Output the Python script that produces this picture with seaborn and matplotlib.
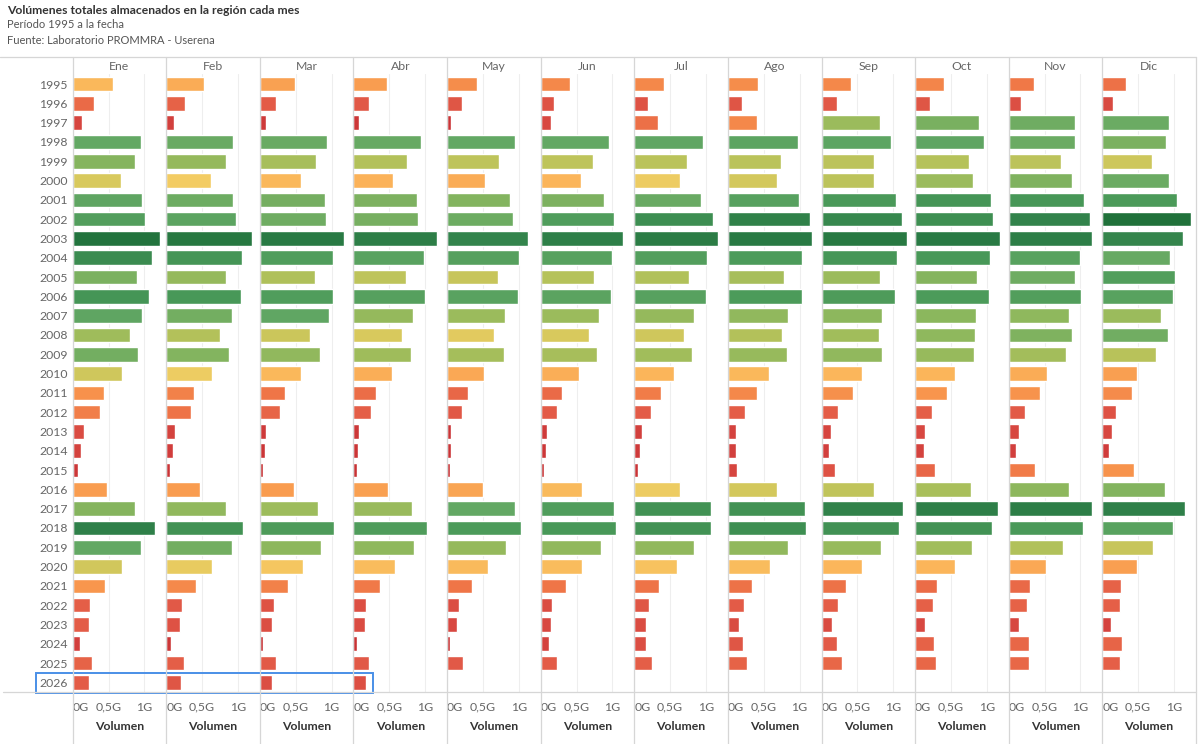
import numpy as np
import pandas as pd
import seaborn as sns
import matplotlib.pyplot as plt
from matplotlib.colors import LinearSegmentedColormap, to_hex
from matplotlib.patches import Rectangle
from matplotlib.lines import Line2D

nan = np.nan
years = [str(y) for y in range(1995, 2027)]
months = ['Ene', 'Feb', 'Mar', 'Abr', 'May', 'Jun', 'Jul', 'Ago', 'Sep', 'Oct', 'Nov', 'Dic']

# volumen almacenado (miles de millones)
ene = [0.567, 0.30, 0.13, 0.95, 0.865, 0.67, 0.963, 1.01, 1.22, 1.10, 0.89, 1.06, 0.963, 0.805, 0.91, 0.69,
       0.437, 0.377, 0.158, 0.12, 0.07, 0.474, 0.865, 1.15, 0.95, 0.684, 0.45, 0.24, 0.23, 0.098, 0.265, 0.23]
feb = [0.53, 0.26, 0.107, 0.935, 0.83, 0.62, 0.925, 0.972, 1.195, 1.06, 0.83, 1.047, 0.91, 0.753, 0.874, 0.633,
       0.386, 0.34, 0.12, 0.093, 0.056, 0.47, 0.837, 1.07, 0.91, 0.642, 0.414, 0.219, 0.19, 0.07, 0.242, 0.205]
mar = [0.493, 0.228, 0.08, 0.935, 0.786, 0.567, 0.907, 0.92, 1.177, 1.02, 0.763, 1.02, 0.958, 0.70, 0.837, 0.567,
       0.35, 0.274, 0.08, 0.065, 0.042, 0.47, 0.81, 1.03, 0.846, 0.605, 0.386, 0.19, 0.167, 0.042, 0.223, 0.167]
abr = [0.474, 0.219, 0.07, 0.94, 0.753, 0.55, 0.888, 0.902, 1.158, 0.986, 0.73, 1.0, 0.828, 0.67, 0.805, 0.535,
       0.316, 0.242, 0.07, 0.06, 0.047, 0.488, 0.82, 1.023, 0.842, 0.58, 0.363, 0.172, 0.158, 0.047, 0.219, 0.172]
may = [0.423, 0.205, 0.056, 0.949, 0.73, 0.53, 0.874, 0.926, 1.13, 1.0, 0.712, 0.986, 0.814, 0.651, 0.79, 0.516,
       0.288, 0.214, 0.056, 0.056, 0.042, 0.507, 0.949, 1.033, 0.828, 0.572, 0.349, 0.167, 0.144, 0.047, 0.219, nan]
jun = [0.409, 0.19, 0.144, 0.949, 0.73, 0.558, 0.888, 1.019, 1.153, 0.995, 0.749, 0.981, 0.814, 0.67, 0.786, 0.535,
       0.302, 0.228, 0.084, 0.07, 0.047, 0.572, 1.019, 1.047, 0.837, 0.58, 0.349, 0.158, 0.144, 0.116, 0.228, nan]
jul = [0.409, 0.19, 0.326, 0.958, 0.74, 0.633, 0.935, 1.093, 1.167, 1.009, 0.758, 0.995, 0.828, 0.693, 0.8, 0.558,
       0.372, 0.228, 0.107, 0.079, 0.056, 0.633, 1.07, 1.07, 0.837, 0.595, 0.34, 0.205, 0.158, 0.167, 0.242, nan]
ago = [0.423, 0.2, 0.409, 0.972, 0.74, 0.679, 0.995, 1.144, 1.177, 1.033, 0.786, 1.033, 0.837, 0.753, 0.823, 0.567,
       0.409, 0.237, 0.116, 0.107, 0.13, 0.679, 1.07, 1.084, 0.837, 0.581, 0.335, 0.228, 0.153, 0.205, 0.265, nan]
sep = [0.409, 0.214, 0.814, 0.967, 0.735, 0.735, 1.042, 1.116, 1.19, 1.056, 0.814, 1.028, 0.847, 0.8, 0.837, 0.563,
       0.433, 0.237, 0.13, 0.102, 0.19, 0.726, 1.14, 1.079, 0.823, 0.563, 0.335, 0.237, 0.153, 0.223, 0.284, nan]
oct_ = [0.4, 0.205, 0.898, 0.963, 0.749, 0.814, 1.06, 1.084, 1.181, 1.047, 0.865, 1.033, 0.851, 0.842, 0.823, 0.558,
        0.447, 0.242, 0.144, 0.121, 0.279, 0.777, 1.153, 1.07, 0.8, 0.558, 0.312, 0.251, 0.144, 0.26, 0.288, nan]
nov = [0.358, 0.172, 0.921, 0.93, 0.735, 0.879, 1.051, 1.135, 1.158, 0.991, 0.921, 1.014, 0.842, 0.879, 0.795, 0.53,
       0.442, 0.223, 0.14, 0.098, 0.367, 0.847, 1.158, 1.042, 0.758, 0.516, 0.293, 0.26, 0.14, 0.284, 0.284, nan]
dic = [0.33, 0.149, 0.93, 0.893, 0.698, 0.93, 1.037, 1.233, 1.126, 0.94, 1.014, 0.991, 0.814, 0.916, 0.744, 0.479,
       0.419, 0.186, 0.14, 0.088, 0.442, 0.87, 1.149, 0.991, 0.712, 0.479, 0.26, 0.247, 0.116, 0.27, 0.247, nan]

series = [ene, feb, mar, abr, may, jun, jul, ago, sep, oct_, nov, dic]

# escala de color rojo-amarillo-verde segun volumen
vmax = 1.25
stops = [(0.0, '#c0272d'), (0.1, '#d23f3d'), (0.22, '#e25a47'), (0.35, '#ef7547'),
         (0.45, '#f8964d'), (0.56, '#fbb55a'), (0.62, '#f3cd63'), (0.68, '#d4c85c'),
         (0.76, '#b1c15a'), (0.85, '#8cb75d'), (0.95, '#63a864'), (1.05, '#489858'),
         (1.15, '#2f8049'), (1.25, '#1d6e38')]
cmap = LinearSegmentedColormap.from_list('ryg', [(v / vmax, c) for v, c in stops])

sns.set_style('white')
plt.rcParams['font.family'] = ['Lato', 'DejaVu Sans']

W, H = 1200, 744
fig = plt.figure(figsize=(12, 7.44), dpi=100)

x0, pw = 72.7, 93.6
y_top, y_bot = 74.4, 692.0
grey = '#666666'

for i, (m, vals) in enumerate(zip(months, series)):
    ax = fig.add_axes([(x0 + i * pw) / W, 1 - y_bot / H, pw / W, (y_bot - y_top) / H])
    df = pd.DataFrame({'year': years, 'vol': vals}).dropna()
    pal = {y: to_hex(cmap(min(v, vmax) / vmax)) for y, v in zip(df['year'], df['vol'])}
    sns.barplot(data=df, x='vol', y='year', hue='year', palette=pal, order=years,
                orient='h', errorbar=None, legend=False, width=0.76, saturation=1, ax=ax)
    ax.set_xlim(0, pw / 71.7)
    ax.set_ylim(len(years) - 0.5, -0.5)
    ax.set_xticks([0, 0.5, 1])
    ax.set_xticklabels(['0G', '0,5G', '1G'])
    ax.get_xticklabels()[0].set_ha('left')
    ax.tick_params(axis='x', length=0, labelsize=8.8, labelcolor=grey, pad=7)
    ax.grid(axis='x', color='#eeeeee', lw=0.8)
    ax.set_axisbelow(True)
    for s in ax.spines.values():
        s.set_visible(False)
    ax.set_xlabel('')
    ax.set_ylabel('')
    if i == 0:
        ax.tick_params(axis='y', length=0, labelsize=8.8, labelcolor=grey, pad=3.5)
    else:
        ax.set_yticks([])
    cx = (x0 + (i + 0.5) * pw) / W
    fig.text(cx, 1 - 66 / H, m, ha='center', va='center', fontsize=8.8, color=grey)
    fig.text(cx, 1 - 727 / H, 'Volumen', ha='center', va='center', fontsize=8.8,
             fontweight='bold', color='#333333')

# separadores de paneles
for i in range(13):
    x = (x0 + i * pw) / W
    fig.add_artist(Line2D([x, x], [0, 1 - 57 / H], color='#d6d6d6', lw=0.9))
fig.add_artist(Line2D([0, (x0 + 12 * pw) / W], [1 - 57 / H] * 2, color='#d6d6d6', lw=0.9))
fig.add_artist(Line2D([3 / W, (x0 + 12 * pw) / W], [1 - 692 / H] * 2, color='#d6d6d6', lw=0.9))

# seleccion del año 2026
fig.add_artist(Rectangle((36 / W, 1 - 692.5 / H), (373 - 36) / W, 20 / H,
                         transform=fig.transFigure, fill=False, ec='#4a8fe7', lw=1.4))

fig.text(7 / W, 1 - 10 / H, 'Volúmenes totales almacenados en la región cada mes',
         ha='left', va='center', fontsize=8.7, fontweight='bold', color='#333333')
fig.text(7 / W, 1 - 25 / H, 'Período 1995 a la fecha', ha='left', va='center',
         fontsize=8.0, color='#555555')
fig.text(7 / W, 1 - 40 / H, 'Fuente: Laboratorio PROMMRA - Userena', ha='left', va='center',
         fontsize=8.0, color='#555555')

fig.savefig('out.png', dpi=100)
